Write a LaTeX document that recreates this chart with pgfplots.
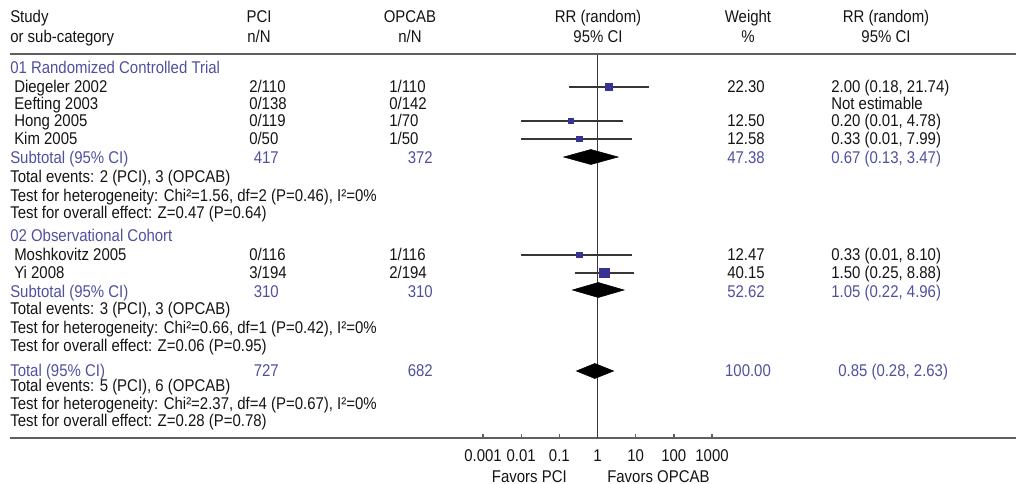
\documentclass[border=0pt]{standalone}
\usepackage{fontspec}
\setmainfont{Liberation Sans}[FakeStretch=0.88]
\usepackage{pgfplots}
\pgfplotsset{compat=1.18}
\definecolor{txt}{RGB}{20,20,20}
\definecolor{sub}{RGB}{80,80,160}
\definecolor{mk}{RGB}{55,50,150}
\definecolor{ci}{RGB}{55,55,55}
\definecolor{rulec}{RGB}{95,95,95}
\newcommand\TL[3]{\node[anchor=base west, yshift=-4.5pt] at (#1,#2) {#3};}
\newcommand\TC[3]{\node[anchor=base, yshift=-4.5pt] at (#1,#2) {#3};}
\newcommand\TR[3]{\node[anchor=base east, yshift=-4.5pt] at (#1,#2) {#3};}
\begin{document}
\begin{tikzpicture}[font=\fontsize{12.75pt}{14pt}\selectfont]
\useasboundingbox (0,0) rectangle (762pt,-363pt);
\begin{scope}[x=0.75pt,y=-0.75pt, every node/.style={inner sep=0pt, text=txt}]
\draw[rulec, line width=2pt] (10,54) -- (1016,54);
\draw[rulec, line width=2pt] (10,438) -- (1016,438);
% header
\TL{10}{17}{Study}
\TL{10}{37}{or sub-category}
\TC{259}{17}{PCI}\TC{259}{37}{n/N}
\TC{410}{17}{OPCAB}\TC{410}{37}{n/N}
\TC{598}{17}{RR (random)}\TC{598}{37}{95\% CI}
\TC{748}{17}{Weight}\TC{748}{37}{\%}
\TC{886}{17}{RR (random)}\TC{886}{37}{95\% CI}
% group 1
\node[anchor=base west, yshift=-4.5pt, text=sub] at (10,68) {01 Randomized Controlled Trial};
\TL{14}{87}{Diegeler 2002}\TL{249}{87}{2/110}\TL{389}{87}{1/110}\TC{746}{87}{22.30}\TL{831}{87}{2.00 (0.18, 21.74)}
\TL{14}{104}{Eefting 2003}\TL{249}{104}{0/138}\TL{389}{104}{0/142}\TL{831}{104}{Not estimable}
\TL{14}{121}{Hong 2005}\TL{249}{121}{0/119}\TL{389}{121}{1/70}\TC{746}{121}{12.50}\TL{831}{121}{0.20 (0.01, 4.78)}
\TL{14}{139}{Kim 2005}\TL{249}{139}{0/50}\TL{389}{139}{1/50}\TC{746}{139}{12.58}\TL{831}{139}{0.33 (0.01, 7.99)}
\begin{scope}[every node/.style={inner sep=0pt, text=sub}]
\TL{10}{158}{Subtotal (95\% CI)}\TR{279}{158}{417}\TR{433}{158}{372}\TC{746}{158}{47.38}\TL{831}{158}{0.67 (0.13, 3.47)}
\end{scope}
\TL{10}{177}{Total events: 2 (PCI), 3 (OPCAB)}
\TL{10}{196}{Test for heterogeneity: Chi²=1.56, df=2 (P=0.46), I²=0\%}
\TL{10}{213}{Test for overall effect: Z=0.47 (P=0.64)}
% group 2
\node[anchor=base west, yshift=-4.5pt, text=sub] at (10,236) {02 Observational Cohort};
\TL{14}{255}{Moshkovitz 2005}\TL{249}{255}{0/116}\TL{389}{255}{1/116}\TC{746}{255}{12.47}\TL{831}{255}{0.33 (0.01, 8.10)}
\TL{14}{273}{Yi 2008}\TL{249}{273}{3/194}\TL{389}{273}{2/194}\TC{746}{273}{40.15}\TL{831}{273}{1.50 (0.25, 8.88)}
\begin{scope}[every node/.style={inner sep=0pt, text=sub}]
\TL{10}{292}{Subtotal (95\% CI)}\TR{279}{292}{310}\TR{433}{292}{310}\TC{746}{292}{52.62}\TL{831}{292}{1.05 (0.22, 4.96)}
\end{scope}
\TL{10}{309}{Total events: 3 (PCI), 3 (OPCAB)}
\TL{10}{327}{Test for heterogeneity: Chi²=0.66, df=1 (P=0.42), I²=0\%}
\TL{10}{345}{Test for overall effect: Z=0.06 (P=0.95)}
% total
\begin{scope}[every node/.style={inner sep=0pt, text=sub}]
\TL{10}{370}{Total (95\% CI)}\TR{279}{370}{727}\TR{433}{370}{682}\TC{748}{370}{100.00}\TL{838}{370}{0.85 (0.28, 2.63)}
\end{scope}
\TL{10}{385}{Total events: 5 (PCI), 6 (OPCAB)}
\TL{10}{403}{Test for heterogeneity: Chi²=2.37, df=4 (P=0.67), I²=0\%}
\TL{10}{420}{Test for overall effect: Z=0.28 (P=0.78)}
% footer
\TR{567}{476}{Favors PCI}
\TL{607}{476}{Favors OPCAB}
\end{scope}
\begin{axis}[at={(362.25pt,-328.5pt)}, anchor=south west, scale only axis,
  width=171.75pt, height=287.25pt, xmode=log, xmin=0.001, xmax=1000,
  ymin=-438, ymax=-55, axis y line=none, axis x line=bottom,
  x axis line style={draw=none},
  xtick={0.001,0.01,0.1,1,10,100,1000},
  xticklabels={0.001,0.01,0.1,1,10,100,1000},
  xminorticks=false, tick align=inside, major tick length=3pt,
  tick style={rulec, line width=1pt},
  xticklabel style={font=\fontsize{12.75pt}{14pt}\selectfont, text=txt, yshift=-5pt},
  clip=false]
\addplot[ci, line width=1.2pt] coordinates {(1,-55) (1,-438)};
% study CIs
\addplot[ci, line width=1.2pt] coordinates {(0.18,-87) (21.74,-87)};
\addplot[ci, line width=1.2pt] coordinates {(0.01,-121) (4.78,-121)};
\addplot[ci, line width=1.2pt] coordinates {(0.01,-139) (7.99,-139)};
\addplot[ci, line width=1.2pt] coordinates {(0.01,-255) (8.10,-255)};
\addplot[ci, line width=1.2pt] coordinates {(0.25,-273) (8.88,-273)};
% markers
\addplot[only marks, mark=square*, mark size=2.8pt, mk] coordinates {(2.00,-87)};
\addplot[only marks, mark=square*, mark size=2.06pt, mk] coordinates {(0.20,-121)};
\addplot[only marks, mark=square*, mark size=2.06pt, mk] coordinates {(0.33,-139)};
\addplot[only marks, mark=square*, mark size=2.06pt, mk] coordinates {(0.33,-255)};
\addplot[only marks, mark=square*, mark size=3.5pt, mk] coordinates {(1.50,-273)};
% diamonds
\addplot[fill=black, draw=black] coordinates {(0.13,-157) (0.67,-149.5) (3.47,-157) (0.67,-164.5)} --cycle;
\addplot[fill=black, draw=black] coordinates {(0.22,-290) (1.05,-282.5) (4.96,-290) (1.05,-297.5)} --cycle;
\addplot[fill=black, draw=black] coordinates {(0.28,-371) (0.85,-363.5) (2.63,-371) (0.85,-378.5)} --cycle;
\end{axis}
\end{tikzpicture}
\end{document}
